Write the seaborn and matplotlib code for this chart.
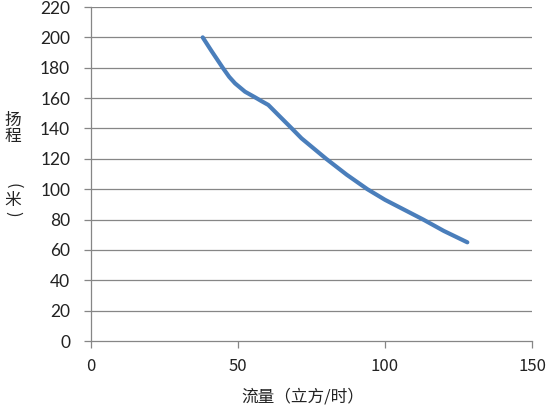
import matplotlib
matplotlib.use("Agg")
import matplotlib.pyplot as plt
import pandas as pd
import seaborn as sns

# flow (m3/h) vs head (m)
flow = [38, 41, 44.8, 47, 49, 52.4, 55.8, 58, 60.3, 63.7, 68.3, 71.6, 80, 87, 94, 100, 106, 113, 120, 128]
head = [200, 191, 180, 174, 169.7, 164.2, 160.5, 158, 155.5, 148.9, 140, 133.5, 120, 109.5, 100, 93, 87, 80, 72.5, 65]
y_ticks = [0, 20, 40, 60, 80, 100, 120, 140, 160, 180, 200, 220]
x_ticks = [0, 50, 100, 150]

df = pd.DataFrame({"flow": flow, "head": head})

sns.set_style("white")
plt.rcParams['font.family'] = ['Noto Sans CJK SC', 'DejaVu Sans']

fig = plt.figure(figsize=(5.49, 4.07), dpi=100)
ax = fig.add_axes([91 / 549, 1 - 341 / 407, 441 / 549, 334 / 407])

sns.lineplot(data=df, x="flow", y="head", ax=ax, color="#4a7ebb",
             linewidth=3.0, solid_capstyle="round", solid_joinstyle="round", sort=False)

ax.set_xlim(0, 150)
ax.set_ylim(0, 220)
ax.set_xticks(x_ticks)
ax.set_yticks(y_ticks)
ax.set_xticklabels([str(v) for v in x_ticks], fontsize=12,
                   family=['Noto Sans CJK SC'], fontweight='light', color='#222222')
ax.set_yticklabels([str(v) for v in y_ticks], fontsize=12.5,
                   family=['Lato', 'DejaVu Sans'], color='#222222')

for y in y_ticks[1:]:
    ax.axhline(y, color="#868686", linewidth=0.9, zorder=0)

for s in ["top", "right"]:
    ax.spines[s].set_visible(False)
for s in ["left", "bottom"]:
    ax.spines[s].set_color("#868686")
    ax.spines[s].set_linewidth(0.9)

ax.tick_params(axis="y", direction="out", length=5, width=0.9, color="#868686", pad=10, left=True)
ax.tick_params(axis="x", direction="out", length=5, width=0.9, color="#868686", pad=7, bottom=True)

ax.set_xlabel("")
ax.set_ylabel("")

fig.text(303 / 549, 1 - 397 / 407, "流量（立方/时）", ha="center", va="center",
         fontsize=12, color="#222222")

# stacked vertical y label
for ch, ypix in [("扬", 120), ("程", 136), ("米", 200)]:
    fig.text(13 / 549, 1 - ypix / 407, ch, ha="center", va="center",
             fontsize=12, color="#222222")
for ch, ypix in [("(", 186), (")", 214)]:
    fig.text(13 / 549, 1 - ypix / 407, ch, ha="center", va="center", rotation=-90,
             fontsize=12, color="#222222")

fig.savefig("out.png", dpi=100)
